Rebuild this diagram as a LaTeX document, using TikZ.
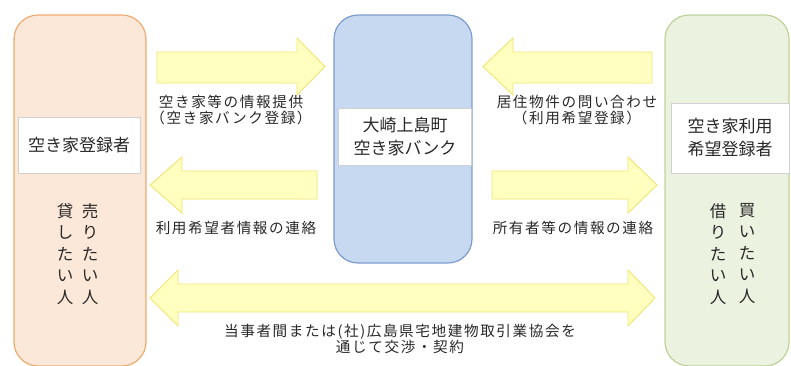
\documentclass[tikz,border=0pt]{standalone}
\usepackage{fontspec}
\setmainfont{Noto Sans CJK JP}
\newfontfamily\lblfont[LetterSpace=11]{Noto Sans CJK JP}
\definecolor{arrfill}{RGB}{255,255,192}
\definecolor{arrline}{RGB}{242,228,110}
\definecolor{lfill}{RGB}{252,232,216}
\definecolor{lline}{RGB}{238,172,112}
\definecolor{cfill}{RGB}{198,217,240}
\definecolor{cline}{RGB}{125,155,205}
\definecolor{rfill}{RGB}{236,242,224}
\definecolor{rline}{RGB}{192,210,155}
\definecolor{txt}{RGB}{40,40,40}
\tikzset{
  blockarrow/.style={fill=arrfill,draw=arrline,line width=0.9pt,line join=miter},
  bigbox/.style={line width=1.2pt,rounded corners=24pt},
  labelbox/.style={fill=white,draw=black!18,line width=0.6pt},
  lbl/.style={text=txt,font=\lblfont\fontsize{14.6}{16.5}\selectfont,align=center,inner sep=0pt},
  boxtxt/.style={text=txt,font=\fontsize{17}{23}\selectfont,align=center,inner sep=0pt},
  vtxt/.style={text=txt,font=\fontsize{16.5}{21.5}\selectfont,align=center,inner sep=0pt,anchor=north},
}
\begin{document}
\begin{tikzpicture}[x=1pt,y=-1pt]
\useasboundingbox (0,0) rectangle (791,365);
% big boxes
\draw[bigbox,fill=lfill,draw=lline] (14,15) rectangle (146,366);
\draw[bigbox,fill=cfill,draw=cline] (334,15) rectangle (472,263);
\draw[bigbox,fill=rfill,draw=rline] (665,15) rectangle (789,366);
% label boxes
\node[labelbox,minimum width=122pt,minimum height=56pt] (lb) at (79,145) {};
\node[boxtxt] (lbt) at (lb.center) {空き家登録者};
\node[labelbox,minimum width=133pt,minimum height=57pt] (cb) at (405,136.5) {};
\node[boxtxt] (cbt) at (cb.center) {大崎上島町\\空き家バンク};
\node[labelbox,minimum width=118pt,minimum height=70pt] (rb) at (730,138) {};
\node[boxtxt] (rbt) at (rb.center) {空き家利用\\希望登録者};
% vertical texts
\node[vtxt] (l1) at (90,203) {売\\り\\た\\い\\人};
\node[vtxt] (l2) at (65,203) {貸\\し\\た\\い\\人};
\node[vtxt] (r1) at (747,203) {買\\い\\た\\い\\人};
\node[vtxt] (r2) at (718,203) {借\\り\\た\\い\\人};
% arrows
\draw[blockarrow] (157,52) -- (297,52) -- (297,38) -- (325,66.5) -- (297,95) -- (297,83) -- (157,83) -- cycle;
\draw[blockarrow] (317,171) -- (182,171) -- (182,157) -- (150,185) -- (182,213) -- (182,199) -- (317,199) -- cycle;
\draw[blockarrow] (652,52) -- (513,52) -- (513,38) -- (483,66.5) -- (513,95) -- (513,83) -- (652,83) -- cycle;
\draw[blockarrow] (492,171) -- (628,171) -- (628,157) -- (657,185) -- (628,213) -- (628,199) -- (492,199) -- cycle;
\draw[blockarrow] (178,284) -- (628,284) -- (628,270) -- (655,298) -- (628,326) -- (628,312) -- (178,312) -- (178,326) -- (150,298) -- (178,270) -- cycle;
% arrow labels
\node[lbl] (a1) at (231,110) {空き家等の情報提供\\（空き家バンク登録）};
\node[lbl] (a2) at (236,228) {利用希望者情報の連絡};
\node[lbl] (a3) at (577,110) {居住物件の問い合わせ\\（利用希望登録）};
\node[lbl] (a4) at (573,228) {所有者等の情報の連絡};
\node[lbl] (a5) at (400,339) {当事者間または(社)広島県宅地建物取引業協会を\\通じて交渉・契約};
\end{tikzpicture}
\end{document}
